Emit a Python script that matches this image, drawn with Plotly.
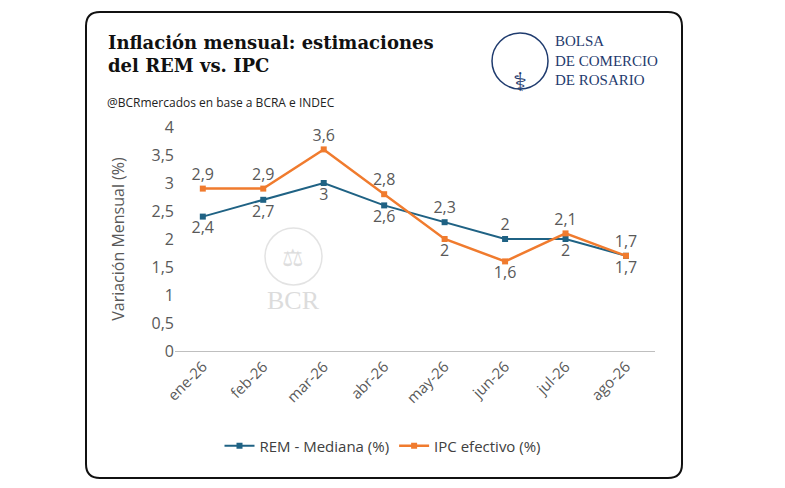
import plotly.graph_objects as go

months = ["ene-26","feb-26","mar-26","abr-26","may-26","jun-26","jul-26","ago-26"]
rem = [2.4,2.7,3.0,2.6,2.3,2.0,2.0,1.7]
ipc = [2.9,2.9,3.6,2.8,2.0,1.6,2.1,1.7]
rem_pos = ["bottom center"]*4 + ["top center","top center","bottom center","top center"]
ipc_pos = ["top center"]*4 + ["bottom center","bottom center","top center","bottom center"]

W, H = 785, 488
def px(x): return x / W
def py(y): return 1 - y / H

x = list(range(len(months)))
fig = go.Figure()
fig.add_trace(go.Scatter(x=x, y=rem, name="REM - Mediana (%)", mode="lines+markers+text",
    line=dict(color="#1f6284", width=2), marker=dict(symbol="square", size=6),
    text=[f"{v:g}".replace(".", ",") for v in rem], textposition=rem_pos,
    textfont=dict(size=16, color="#595959")))
fig.add_trace(go.Scatter(x=x, y=ipc, name="IPC efectivo (%)", mode="lines+markers+text",
    line=dict(color="#f07b2e", width=2.5), marker=dict(symbol="square", size=6),
    text=[f"{v:g}".replace(".", ",") for v in ipc], textposition=ipc_pos,
    textfont=dict(size=16, color="#595959")))

fig.update_layout(
    width=W, height=H, margin=dict(l=0, r=0, t=0, b=0, autoexpand=False),
    paper_bgcolor="white", plot_bgcolor="rgba(0,0,0,0)",
    separators=",.", font=dict(family="Open Sans", color="#595959"),
    xaxis=dict(domain=[px(175), px(655)], range=[-0.46, 7.48], tickmode="array",
               tickvals=x, ticktext=months, tickangle=-45, showgrid=False, automargin=False,
               showline=True, linecolor="#bfbfbf", tickfont=dict(size=15, color="#595959"), zeroline=False),
    yaxis=dict(domain=[py(351), py(127)], range=[0, 4], dtick=0.5, showgrid=False, automargin=False,
               zeroline=False, tickfont=dict(size=16, color="#595959"),
               title=dict(text="Variación Mensual (%)", font=dict(size=16, color="#595959"), standoff=22)),
    legend=dict(orientation="h", x=px(383), y=py(446), xanchor="center", yanchor="middle",
                font=dict(size=15, color="#404040"), bgcolor="rgba(0,0,0,0)"),
    showlegend=True,
)

x0, y0, x1, y1, r = px(86), py(478), px(682), py(12), 14
rx, ry = r / W, r / H
path = (f"M {x0+rx},{y0} L {x1-rx},{y0} Q {x1},{y0} {x1},{y0+ry} L {x1},{y1-ry} Q {x1},{y1} {x1-rx},{y1} "
        f"L {x0+rx},{y1} Q {x0},{y1} {x0},{y1-ry} L {x0},{y0+ry} Q {x0},{y0} {x0+rx},{y0} Z")
fig.add_shape(type="path", path=path, xref="paper", yref="paper", line=dict(color="#111", width=2))

fig.add_shape(type="circle", xref="paper", yref="paper", x0=px(492), x1=px(548), y0=py(89), y1=py(33),
              line=dict(color="#1f3b6e", width=1.5))
fig.add_annotation(x=px(520), y=py(61), xref="paper", yref="paper", text="⚕", showarrow=False,
                   font=dict(size=26, color="#1f3b6e"))
fig.add_annotation(x=px(553), y=py(60), xref="paper", yref="paper", xanchor="left", yanchor="middle",
                   text="BOLSA<br>DE COMERCIO<br>DE ROSARIO", showarrow=False, align="left",
                   font=dict(family="Liberation Serif", size=15, color="#1f3b6e"))
fig.add_shape(type="circle", xref="paper", yref="paper", x0=px(265), x1=px(322), y0=py(285), y1=py(228),
              line=dict(color="#e3e3e3", width=1.5))
fig.add_annotation(x=px(293), y=py(256), xref="paper", yref="paper", text="⚖", showarrow=False,
                   font=dict(size=24, color="#dddddd"))
fig.add_annotation(x=px(293), y=py(300), xref="paper", yref="paper", text="BCR", showarrow=False,
                   font=dict(family="Liberation Serif", size=26, color="#dcdcdc"))
fig.add_annotation(x=px(106), y=py(30), xref="paper", yref="paper", xanchor="left", yanchor="top",
                   text="<b>Inflación mensual: estimaciones<br>del REM vs. IPC</b>", showarrow=False, align="left",
                   font=dict(family="DejaVu Serif", size=18, color="#111"))
fig.add_annotation(x=px(105), y=py(102), xref="paper", yref="paper", xanchor="left",
                   yanchor="middle", text="@BCRmercados en base a BCRA e INDEC", showarrow=False,
                   font=dict(family="Open Sans", size=12, color="#222"))

fig.write_html("out.html", config={"responsive": False, "displayModeBar": False},
               post_script="document.body.style.margin='0';document.body.style.overflow='hidden';")
